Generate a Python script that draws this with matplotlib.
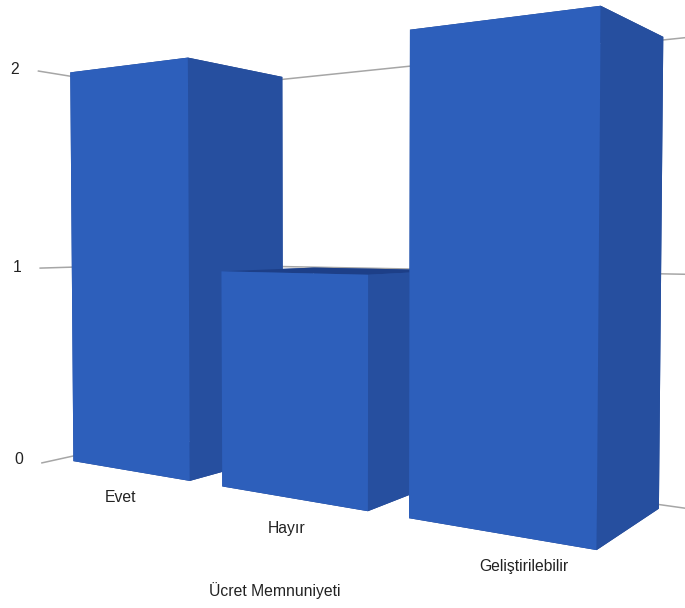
import matplotlib
matplotlib.use("Agg")
import matplotlib.pyplot as plt

categories = ["Evet", "Hayır", "Geliştirilebilir"]
values = [2, 1, 2]
y_ticks = [0, 1, 2]
x_title = "Ücret Memnuniyeti"

plt.rcParams['font.family'] = ['Liberation Sans', 'DejaVu Sans']

W, H = 685, 608
front_col = "#2d5fbb"
side_col = "#264f9f"
top_col = "#1d3f88"
grid_col = "#a6a6a6"

fig = plt.figure(figsize=(W / 100, H / 100), dpi=100)

# big square axes hanging over the figure edges, so the bars fill the canvas
side = 1440
ax = fig.add_axes([-395 / W, -402.4 / H, side / W, side / H], projection='3d')
ax.set_proj_type('persp', focal_length=0.1375)
ax.view_init(elev=1.8, azim=-56)
ax.set_box_aspect((1, 1, 1))
ax.set_xlim(-0.9517, 3.0243)
ax.set_ylim(0.365 - 2, 0.365 + 2)
ax.set_zlim(1.0 - 2, 1.0 + 2)
ax.set_axis_off()
ax.patch.set_alpha(0)
ax.computed_zorder = False

bar_w = 0.8
bar_d = 0.73
wall_y = 0.8
for t in y_ticks:
    # left wall, then back wall
    ax.plot([-0.5, -0.5], [-0.12, wall_y], [t, t], color=grid_col, lw=1.1, zorder=1)
    ax.plot([-0.5, 2.5], [wall_y, wall_y], [t, t], color=grid_col, lw=1.1, zorder=1)

for i, v in enumerate(values):
    # face order in bar3d: bottom, top, front, back, left, right
    cols = [top_col, top_col, front_col, side_col, side_col, side_col]
    ax.bar3d(i - bar_w / 2, 0, 0, bar_w, bar_d, v, color=cols, shade=False,
             edgecolor='none', zorder=2 + i)

def label(x, y, s):
    fig.text(x / W, 1 - y / H, s, ha='center', va='center', fontsize=11.3, color='#222222')

for t, x, y in zip(y_ticks, [19, 17, 15], [459, 268, 69]):
    label(x, y, str(t))
for name, pos in zip(categories, [(120, 497), (287, 529), (524, 567)]):
    label(pos[0], pos[1], name)
label(275, 591, x_title)

fig.savefig("out.png", dpi=100)
